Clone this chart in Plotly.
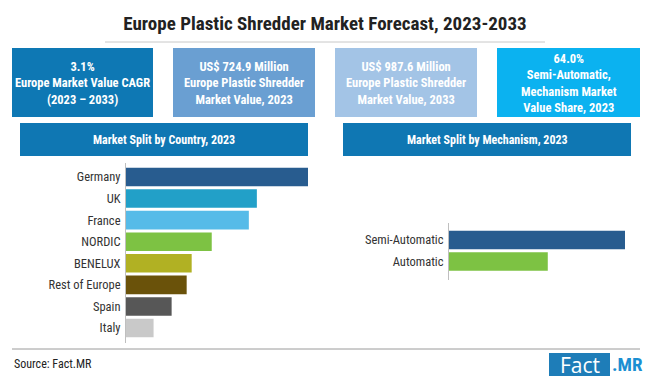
import plotly.graph_objects as go

W, H = 650, 381

# ---- data ----
countries = ["Germany", "UK", "France", "NORDIC", "BENELUX", "Rest of Europe", "Spain", "Italy"]
country_values = [182, 131, 123, 86, 66, 61, 46, 28]
country_colors = ["#285C8F", "#22A0C8", "#56BBE8", "#7DC243", "#B1B123", "#6A520A", "#575757", "#C9C9C9"]

mechanisms = ["Semi-Automatic", "Automatic"]
mechanism_values = [64.0, 36.0]
mechanism_colors = ["#285C8F", "#7DC243"]

kpi_texts = [
    "3.1%<br>Europe Market Value CAGR<br>(2023 – 2033)",
    "US$ 724.9 Million<br>Europe Plastic Shredder<br>Market Value, 2023",
    "US$ 987.6 Million<br>Europe Plastic Shredder<br>Market Value, 2033",
    "64.0%<br>Semi-Automatic,<br>Mechanism Market<br>Value Share, 2023",
]
kpi_colors = ["#0E78B4", "#6A9FD2", "#A3C4E6", "#0BB2F0"]
kpi_x = [(12, 153), (173, 315), (335, 477), (497, 640)]

title = "Europe Plastic Shredder Market Forecast, 2023-2033"
FONT = "Liberation Sans Narrow, Roboto Condensed, Roboto, sans-serif"

def px(x):
    return x / W

def py(y):
    return 1 - y / H

fig = go.Figure()

fig.add_trace(go.Bar(
    y=countries, x=country_values, orientation="h",
    marker=dict(color=country_colors, line=dict(width=0)),
    xaxis="x", yaxis="y", showlegend=False, hoverinfo="skip",
))
fig.add_trace(go.Bar(
    y=mechanisms, x=mechanism_values, orientation="h",
    marker=dict(color=mechanism_colors, line=dict(width=0)),
    xaxis="x2", yaxis="y2", showlegend=False, hoverinfo="skip",
))

shapes = []
annotations = []

# title separator
shapes.append(dict(type="line", xref="paper", yref="paper", x0=px(105), x1=px(545),
                   y0=py(42), y1=py(42), line=dict(color="#C8C8C8", width=1)))

# KPI boxes
for (x0, x1), col, txt in zip(kpi_x, kpi_colors, kpi_texts):
    shapes.append(dict(type="rect", xref="paper", yref="paper", x0=px(x0), x1=px(x1),
                       y0=py(117), y1=py(48), fillcolor=col, line=dict(width=0), layer="below"))
    annotations.append(dict(xref="paper", yref="paper", x=px((x0 + x1) / 2), y=py(82.5),
                            text="<b>" + txt + "</b>", showarrow=False,
                            font=dict(family=FONT, size=12.5, color="white"),
                            xanchor="center", yanchor="middle", align="center"))

# section headers
for (x0, x1), txt in [((20, 308), "Market Split by Country, 2023"),
                      ((343, 631), "Market Split by Mechanism, 2023")]:
    shapes.append(dict(type="rect", xref="paper", yref="paper", x0=px(x0), x1=px(x1),
                       y0=py(156), y1=py(123), fillcolor="#0F77B3", line=dict(width=0), layer="below"))
    annotations.append(dict(xref="paper", yref="paper", x=px((x0 + x1) / 2), y=py(139.5),
                            text="<b>" + txt + "</b>", showarrow=False,
                            font=dict(family=FONT, size=12, color="white"),
                            xanchor="center", yanchor="middle"))

# axis lines
shapes.append(dict(type="line", xref="paper", yref="paper", x0=px(125.5), x1=px(125.5),
                   y0=py(343), y1=py(163), line=dict(color="#BFBFBF", width=1)))
shapes.append(dict(type="line", xref="paper", yref="paper", x0=px(448.5), x1=px(448.5),
                   y0=py(280), y1=py(223), line=dict(color="#BFBFBF", width=1)))

# bottom rule
shapes.append(dict(type="line", xref="paper", yref="paper", x0=px(12), x1=px(640),
                   y0=py(349), y1=py(349), line=dict(color="#9A9A9A", width=1)))

# source
annotations.append(dict(xref="paper", yref="paper", x=px(12), y=py(364), text="Source: Fact.MR",
                        showarrow=False, font=dict(family=FONT, size=12, color="#222222"),
                        xanchor="left", yanchor="middle"))

# logo
shapes.append(dict(type="rect", xref="paper", yref="paper", x0=px(549), x1=px(610),
                   y0=py(376), y1=py(353), fillcolor="#1E7DB8", line=dict(width=0)))
annotations.append(dict(xref="paper", yref="paper", x=px(579.5), y=py(364.5), text="Fact",
                        showarrow=False, font=dict(family="Open Sans, sans-serif", size=21, color="white"),
                        xanchor="center", yanchor="middle"))
annotations.append(dict(xref="paper", yref="paper", x=px(610), y=py(364.5), text="<b>.MR</b>",
                        showarrow=False, font=dict(family=FONT, size=19, color="#1B8FD2"),
                        xanchor="left", yanchor="middle"))

fig.update_layout(
    width=W, height=H,
    margin=dict(l=0, r=0, t=0, b=0),
    paper_bgcolor="white", plot_bgcolor="white",
    title=dict(text="<b>" + title + "</b>", x=0.5, xanchor="center", y=py(23), yanchor="middle",
               font=dict(family=FONT, size=19, color="#222222")),
    bargap=0.14,
    xaxis=dict(domain=[px(125.5), px(308)], range=[0, 182], visible=False, fixedrange=True),
    yaxis=dict(domain=[py(338.8), py(166.2)], autorange="reversed", showgrid=False,
               showline=False, ticks="", ticklabelstandoff=4,
               tickfont=dict(family=FONT, size=12.5, color="#333333"), fixedrange=True),
    xaxis2=dict(domain=[px(448.5), px(625)], range=[0, 64], visible=False, fixedrange=True),
    yaxis2=dict(domain=[py(272.3), py(229.2)], autorange="reversed", showgrid=False,
                showline=False, ticks="", ticklabelstandoff=4, anchor="x2",
                tickfont=dict(family=FONT, size=12.5, color="#333333"), fixedrange=True),
    shapes=shapes, annotations=annotations,
)

fig.write_html("out.html", config={"displayModeBar": False},
               post_script="document.body.style.margin='0';document.body.style.overflow='hidden';")
